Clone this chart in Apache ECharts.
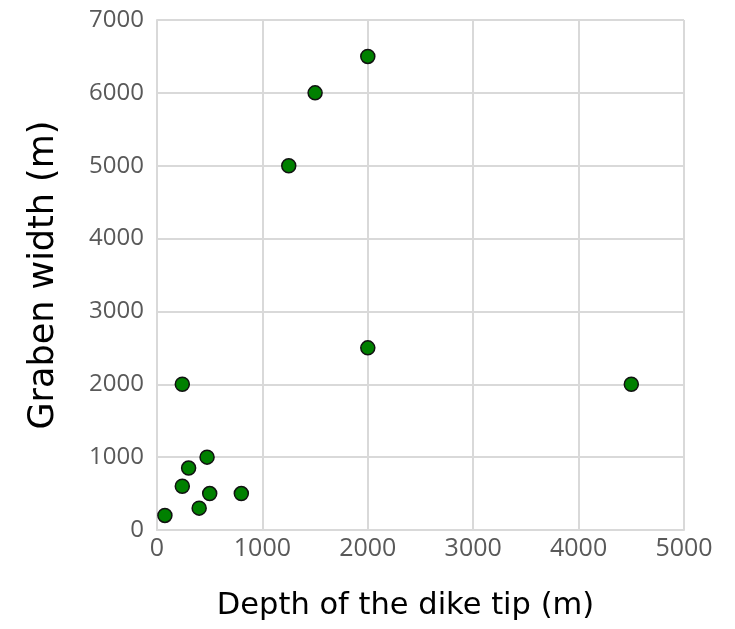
<!DOCTYPE html>
<html>
<head>
<meta charset="utf-8">
<script src="https://cdn.jsdelivr.net/npm/echarts@6/dist/echarts.min.js"></script>
<style>
  html, body { margin: 0; padding: 0; background: #ffffff; }
  #chart { width: 735px; height: 629px; }
</style>
</head>
<body>
<div id="chart"></div>
<script>
// Depth of the dike tip (m) versus graben width (m)
const depth = [75, 240, 300, 475, 400, 500, 800, 240, 1250, 1500, 2000, 2000, 4500];
const grabenWidth = [200, 600, 850, 1000, 300, 500, 500, 2000, 5000, 6000, 6500, 2500, 2000];
const xTicks = [0, 1000, 2000, 3000, 4000, 5000];
const yTicks = [0, 1000, 2000, 3000, 4000, 5000, 6000, 7000];

const points = depth.map((d, i) => [d, grabenWidth[i]]);
const titleFont = 'DejaVu Sans, Verdana, sans-serif';
const tickFont = 'Open Sans, Noto Sans, sans-serif';
const gridColor = '#d9d9d9';
const plain = v => String(v);

const chart = echarts.init(document.getElementById('chart'));
chart.setOption({
  animation: false,
  backgroundColor: '#ffffff',
  grid: { left: 157, right: 51, top: 20, bottom: 99, containLabel: false },
  xAxis: {
    type: 'value',
    min: xTicks[0],
    max: xTicks[xTicks.length - 1],
    interval: 1000,
    name: 'Depth of the dike tip (m)',
    nameLocation: 'middle',
    nameGap: 61,
    nameTextStyle: { fontFamily: titleFont, fontSize: 30.5, color: '#000000', padding: [0, 30, 0, 0] },
    axisLine: { show: true, lineStyle: { color: gridColor, width: 2 } },
    axisTick: { show: false },
    axisLabel: { fontFamily: tickFont, fontSize: 25, color: '#595959', margin: 6, formatter: plain },
    splitLine: { show: true, lineStyle: { color: gridColor, width: 2 } }
  },
  yAxis: {
    type: 'value',
    min: yTicks[0],
    max: yTicks[yTicks.length - 1],
    interval: 1000,
    name: 'Graben width (m)',
    nameLocation: 'middle',
    nameGap: 96,
    nameTextStyle: { fontFamily: titleFont, fontSize: 35, color: '#000000' },
    axisLine: { show: true, lineStyle: { color: gridColor, width: 2 } },
    axisTick: { show: false },
    axisLabel: { fontFamily: tickFont, fontSize: 24, color: '#595959', margin: 13, formatter: plain },
    splitLine: { show: true, lineStyle: { color: gridColor, width: 2 } }
  },
  series: [{
    type: 'scatter',
    data: points,
    symbol: 'circle',
    symbolSize: 14,
    itemStyle: { color: '#008000', opacity: 1, borderColor: '#111111', borderWidth: 1.5 }
  }]
});
</script>
</body>
</html>
